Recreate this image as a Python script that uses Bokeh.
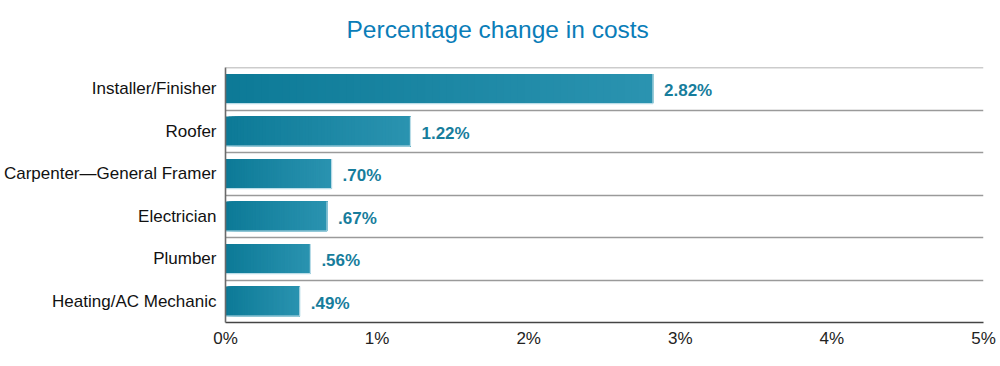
from bokeh.plotting import figure
from bokeh.models import FixedTicker, Title, ColumnDataSource, Span
from bokeh.embed import file_html
from bokeh.resources import INLINE
from bokeh.core.properties import value

categories = ["Installer/Finisher", "Roofer", "Carpenter\u2014General Framer",
              "Electrician", "Plumber", "Heating/AC Mechanic"]
values = [2.82, 1.22, 0.70, 0.67, 0.56, 0.49]
value_labels = ["2.82%", "1.22%", ".70%", ".67%", ".56%", ".49%"]
x_ticks = [0, 1, 2, 3, 4, 5]
x_tick_labels = ["0%", "1%", "2%", "3%", "4%", "5%"]
title_text = "Percentage change in costs"

FONT = "Liberation Sans"
n = len(categories)
# row centers: first category at top
ycent = [n - i - 0.5 for i in range(n)]

p = figure(width=1000, height=366, output_backend="svg", toolbar_location=None,
           x_range=(x_ticks[0], x_ticks[-1]), y_range=(0, n),
           min_border_left=225, min_border_right=17, min_border_top=67,
           min_border_bottom=44, title=None)
p.outline_line_color = None
p.background_fill_color = "white"
p.border_fill_color = "white"

# gradient bars: overlapping slices with interpolated colors (no seams)
c0 = (13, 122, 151)
c1 = (42, 147, 176)
NS = 60
lefts, rights, tops, bottoms, colors = [], [], [], [], []
for v, yc in zip(values, ycent):
    for k in range(NS):
        t = k / (NS - 1)
        col = tuple(int(round(a + (b - a) * t)) for a, b in zip(c0, c1))
        lefts.append(v * k / NS)
        rights.append(v)
        bottoms.append(yc - 0.35)
        tops.append(yc + 0.35)
        colors.append("#%02x%02x%02x" % col)
src = ColumnDataSource(dict(left=lefts, right=rights, top=tops, bottom=bottoms, color=colors))
p.quad(left="left", right="right", top="top", bottom="bottom", source=src,
       fill_color="color", line_color=None)

# light edge on right/bottom of bars
esrc = ColumnDataSource(dict(x0=values, x1=values, y0=[y - 0.35 for y in ycent],
                             y1=[y + 0.35 for y in ycent],
                             bx0=[0] * n, by=[y - 0.35 for y in ycent]))
p.segment(x0="x0", y0="y0", x1="x1", y1="y1", source=esrc, line_color="#b9dce7", line_width=1.2)
p.segment(x0="bx0", y0="by", x1="x1", y1="by", source=esrc, line_color="#b9dce7", line_width=1.2)

# value labels
lsrc = ColumnDataSource(dict(x=values, y=ycent, t=value_labels))
p.text(x="x", y="y", text="t", source=lsrc, x_offset=11, y_offset=2,
       text_font=value(FONT), text_font_style="bold", text_font_size="17px",
       text_color="#177d9c", text_baseline="middle", text_align="left")

# grid: separators between rows
p.xgrid.visible = False
p.ygrid.ticker = FixedTicker(ticks=list(range(1, n)))
p.ygrid.grid_line_color = "#9a9a9a"
p.ygrid.grid_line_width = 1.3
p.add_layout(Span(location=n, dimension="width", line_color="#9a9a9a", line_width=1.3))

# y axis with category labels
p.yaxis.ticker = FixedTicker(ticks=ycent)
p.yaxis.major_label_overrides = {yc: c for yc, c in zip(ycent, categories)}
p.yaxis.major_label_text_font = FONT
p.yaxis.major_label_text_font_size = "17px"
p.yaxis.major_label_text_color = "#111111"
p.yaxis.major_label_standoff = 9
p.yaxis.major_tick_out = 0
p.yaxis.major_tick_in = 0
p.yaxis.major_tick_line_color = None
p.yaxis.minor_tick_line_color = None
p.yaxis.axis_line_color = "#6a6a6a"
p.yaxis.axis_line_width = 1.6

# x axis
p.xaxis.ticker = FixedTicker(ticks=x_ticks)
p.xaxis.major_label_overrides = {t: l for t, l in zip(x_ticks, x_tick_labels)}
p.xaxis.major_label_text_font = FONT
p.xaxis.major_label_text_font_size = "17px"
p.xaxis.major_label_text_color = "#222222"
p.xaxis.major_label_standoff = 6
p.xaxis.major_tick_out = 0
p.xaxis.major_tick_in = 0
p.xaxis.major_tick_line_color = None
p.xaxis.minor_tick_line_color = None
p.xaxis.axis_line_color = "#444444"
p.xaxis.axis_line_width = 1.6

# spacer between title and frame, then the title itself
spacer = Title(text=" ", text_font=FONT, text_font_size="10px", standoff=11)
p.add_layout(spacer, "above")
title = Title(text=title_text, align="left", offset=121, standoff=2,
              text_font=FONT, text_font_size="24.5px", text_font_style="normal",
              text_color="#0a7db8")
p.add_layout(title, "above")

open("out.html", "w").write(file_html(p, INLINE))
